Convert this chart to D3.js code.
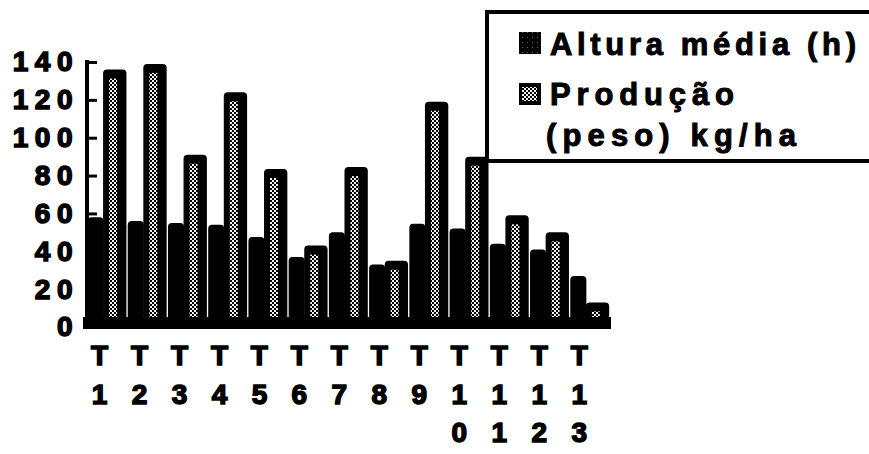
<!DOCTYPE html>
<html>
<head>
<meta charset="utf-8">
<script src="https://cdn.jsdelivr.net/npm/d3@7"></script>
<style>
  html, body { margin: 0; padding: 0; background: #fff; }
  svg { display: block; }
  text { font-family: "Liberation Sans", Arial, Helvetica, sans-serif; font-weight: bold; fill: #000; stroke: #000; stroke-width: 1px; }
</style>
</head>
<body>
<svg id="chart" width="869" height="454"></svg>
<script>
// Treatments T1..T13
const categories = ["T1", "T2", "T3", "T4", "T5", "T6", "T7", "T8", "T9", "T10", "T11", "T12", "T13"];
// Mean height (h)
const altura = [58, 56, 55, 54, 47.5, 37, 50, 33, 54.5, 52, 44, 41, 27];
// Yield (weight) kg/ha
const producao = [136, 139, 91, 124, 83.5, 43, 84.5, 35, 119, 90, 59, 50, 13];
const yTicks = [0, 20, 40, 60, 80, 100, 120, 140];
const legendLines = [["Altura média (h)"], ["Produção", "(peso) kg/ha"]];

const svg = d3.select("#chart");

const x = d3.scaleBand().domain(categories).range([87, 610]);
const y = d3.scaleLinear().domain([0, 140]).range([327, 62]);
const bw = x.bandwidth();

// fill patterns
const defs = svg.append("defs");
const stip = defs.append("pattern").attr("id", "stip")
  .attr("width", 4).attr("height", 4).attr("patternUnits", "userSpaceOnUse");
stip.append("rect").attr("width", 4).attr("height", 4).attr("fill", "#000");
stip.append("rect").attr("x", 0).attr("y", 0).attr("width", 2).attr("height", 2).attr("fill", "#f2f2f2");
stip.append("rect").attr("x", 2).attr("y", 2).attr("width", 2).attr("height", 2).attr("fill", "#f2f2f2");

const dark = defs.append("pattern").attr("id", "dark")
  .attr("width", 5).attr("height", 5).attr("patternUnits", "userSpaceOnUse");
dark.append("rect").attr("width", 5).attr("height", 5).attr("fill", "#000");
dark.append("rect").attr("x", 2).attr("y", 2).attr("width", 1).attr("height", 1).attr("fill", "#666");

function roundedTop(x0, y0, w, h, r) {
  return `M${x0},${y0 + h}V${y0 + r}Q${x0},${y0} ${x0 + r},${y0}H${x0 + w - r}Q${x0 + w},${y0} ${x0 + w},${y0 + r}V${y0 + h}Z`;
}

const floorTop = 317, floorBottom = 329;
const base = y(0);

const rows = categories.map((c, i) => ({ c, a: altura[i], p: producao[i] }));
const g = svg.append("g");

// Altura bars (solid)
g.selectAll("path.alt").data(rows).join("path")
  .attr("class", "alt")
  .attr("fill", "#000")
  .attr("d", d => {
    const x0 = x(d.c) + 0.5, w = bw * 0.40;
    return roundedTop(x0, y(d.a), w, base - y(d.a), 4);
  });

// Produção bars (black shell with stippled face)
g.selectAll("path.prod").data(rows).join("path")
  .attr("class", "prod")
  .attr("fill", "#000")
  .attr("d", d => {
    const x0 = x(d.c) + bw * 0.40, w = bw * 0.58;
    return roundedTop(x0, y(d.p), w, base - y(d.p), 4);
  });

g.selectAll("rect.face").data(rows).join("rect")
  .attr("class", "face")
  .attr("fill", "url(#stip)")
  .attr("x", d => x(d.c) + bw * 0.40 + 6)
  .attr("width", 8)
  .attr("y", d => Math.min(y(d.p) + 9, floorTop - 2))
  .attr("height", d => Math.max(floorTop - Math.min(y(d.p) + 9, floorTop - 2), 0));

// floor
svg.append("rect")
  .attr("x", 83).attr("y", floorTop)
  .attr("width", 611 - 83).attr("height", floorBottom - floorTop)
  .attr("fill", "#000");

// value axis
const yAxis = d3.axisLeft(y).tickValues(yTicks).tickSize(-10).tickSizeOuter(0).tickPadding(8);
const ax = svg.append("g").attr("transform", "translate(87,0)").call(yAxis);
ax.select(".domain").attr("stroke", "#000").attr("stroke-width", 4)
  .attr("d", `M0,${y(140) - 2}V${floorBottom}`);
ax.selectAll(".tick line").attr("stroke", "#000").attr("stroke-width", 3);
ax.selectAll(".tick text")
  .style("font-family", '"Liberation Sans", Arial, sans-serif')
  .style("font-weight", "bold")
  .style("font-size", "28px")
  .style("letter-spacing", "6.5px")
  .style("stroke", "#000")
  .style("stroke-width", "1.5px")
  .attr("fill", "#000");

// category labels, one character per line
const xl = svg.append("g");
rows.forEach((d, i) => {
  d.c.split("").forEach((ch, j) => {
    xl.append("text")
      .attr("x", x(d.c) + 12.5 - i * 0.25)
      .attr("y", 365 + j * 38.5)
      .attr("text-anchor", "middle")
      .style("font-size", "28px")
      .style("stroke-width", "1.5px")
      .text(ch);
  });
});

// legend
const lg = svg.append("g");
lg.append("rect").attr("x", 487).attr("y", 12).attr("width", 420).attr("height", 149)
  .attr("fill", "#fff").attr("stroke", "#000").attr("stroke-width", 4);
lg.append("rect").attr("x", 519).attr("y", 32).attr("width", 22).attr("height", 22).attr("fill", "url(#dark)");
lg.append("rect").attr("x", 519).attr("y", 83).attr("width", 22).attr("height", 22).attr("fill", "#000");
lg.append("rect").attr("x", 522).attr("y", 87).attr("width", 15).attr("height", 14).attr("fill", "url(#stip)");

const legendX = [[550], [550, 546]];
const legendWidths = [[306], [184, 250]];
const legendY = [[55], [105, 146]];
legendLines.forEach((lines, i) => {
  lines.forEach((t, j) => {
    lg.append("text")
      .attr("x", legendX[i][j])
      .attr("y", legendY[i][j])
      .attr("textLength", legendWidths[i][j])
      .attr("lengthAdjust", "spacing")
      .style("font-size", "31px")
      .style("stroke-width", "1px")
      .text(t);
  });
});
</script>
</body>
</html>
